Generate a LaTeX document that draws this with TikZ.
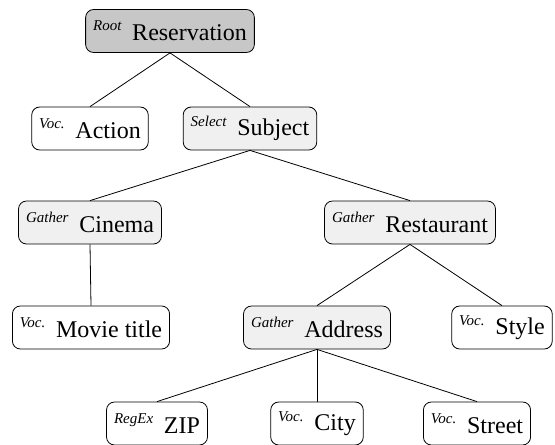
\documentclass[tikz,border=0pt]{standalone}
\usepackage{fontspec}
\setmainfont{Liberation Serif}
\begin{document}
\begin{tikzpicture}[x=1pt,y=-1pt,
  box/.style={draw, rounded corners=8pt, line width=0.8pt, inner xsep=7.5pt, minimum height=43pt, font=\fontsize{24}{27}\selectfont, fill=white},
  rootbox/.style={box, fill=black!22},
  innerbox/.style={box, fill=black!6},
  edge/.style={line width=0.8pt}]
\useasboundingbox (0,0) rectangle (555,445);
\newcommand{\tg}[1]{\raisebox{0.4em}{\fontsize{15}{16}\selectfont\itshape #1}\hspace{0.45em}}
\node[rootbox] (res) at (170,31) {\tg{Root}Reservation};
\node[box] (act) at (90,128.5) {\tg{Voc.}Action};
\node[innerbox] (sub) at (250,128.5) {\tg{Select}Subject};
\node[innerbox] (cin) at (90,222.5) {\tg{Gather}Cinema};
\node[innerbox] (rest) at (410,222.5) {\tg{Gather}Restaurant};
\node[box] (mov) at (91,327.5) {\tg{Voc.}Movie title};
\node[innerbox] (adr) at (317,327.5) {\tg{Gather}Address};
\node[box] (sty) at (502,327.5) {\tg{Voc.}Style};
\node[box] (zip) at (157,423.5) {\tg{RegEx}ZIP};
\node[box] (city) at (317,423.5) {\tg{Voc.}City};
\node[box] (str) at (477,423.5) {\tg{Voc.}Street};
\draw[edge] (res.south) -- (act.north);
\draw[edge] (res.south) -- (sub.north);
\draw[edge] (sub.south) -- (cin.north);
\draw[edge] (sub.south) -- (rest.north);
\draw[edge] (cin.south) -- (mov.north);
\draw[edge] (rest.south) -- (adr.north);
\draw[edge] (rest.south) -- (sty.north);
\draw[edge] (adr.south) -- (zip.north);
\draw[edge] (adr.south) -- (city.north);
\draw[edge] (adr.south) -- (str.north);
\end{tikzpicture}
\end{document}
